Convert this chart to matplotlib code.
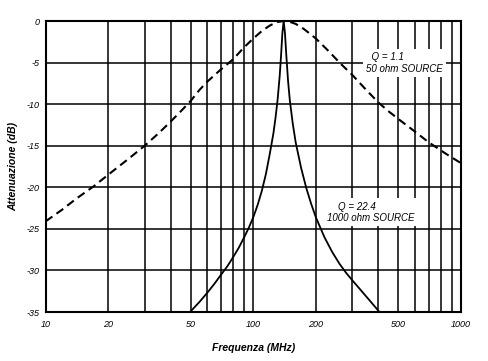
import matplotlib
matplotlib.use("Agg")
import matplotlib.pyplot as plt
from matplotlib.ticker import FixedLocator, NullFormatter

# Q = 1.1, 50 ohm source (dashed)
freq_q1 = [10, 12, 14, 17, 20, 25, 30, 35, 40, 45, 50, 55, 60, 70, 80, 90,
           100, 110, 120, 130, 140, 150, 160, 175, 200, 230, 260, 300, 350,
           400, 450, 500, 600, 700, 850, 1000]
att_q1 = [-24.1, -22.7, -21.4, -19.9, -18.5, -16.6, -15.0, -13.5, -12.1,
          -10.8, -9.6, -8.3, -7.3, -5.8, -4.6, -3.2, -2.1, -1.2, -0.55,
          -0.13, 0.0, -0.1, -0.35, -0.95, -2.1, -3.6, -5.0, -6.5, -8.3,
          -9.8, -10.9, -11.8, -13.3, -14.6, -16.0, -17.1]

# Q = 22.4, 1000 ohm source (solid)
freq_q2 = [49.6, 55, 60, 65, 70, 75, 80, 85, 90, 95, 100, 105, 110, 115,
           120, 125, 128, 131, 134, 136, 138, 140, 142, 144, 147, 150, 155,
           160, 170, 180, 190, 200, 220, 240, 260, 280, 300, 330, 360, 405]
att_q2 = [-35.0, -33.8, -32.7, -31.6, -30.5, -29.5, -28.4, -27.3, -26.1,
          -24.9, -23.6, -22.1, -20.4, -18.4, -16.0, -13.5, -11.6, -9.4,
          -6.6, -4.2, -1.5, 0.0, -1.4, -3.9, -7.2, -9.6, -12.4, -14.6,
          -17.7, -20.1, -22.0, -23.6, -26.0, -27.8, -29.2, -30.3, -31.2,
          -32.4, -33.5, -35.0]

x_ticks = [10, 20, 50, 100, 200, 500, 1000]
x_ticklabels = ["10", "20", "50", "100", "200", "500", "1000"]
x_grid = [20, 30, 40, 50, 60, 70, 80, 90, 100,
          200, 300, 400, 500, 600, 700, 800, 900]
y_ticks = [0, -5, -10, -15, -20, -25, -30, -35]

FONT = "Liberation Sans"

fig = plt.figure(figsize=(4.88, 3.61), dpi=100)
ax = fig.add_axes([0.0934, 0.1357, 0.8513, 0.8061])

ax.set_xscale("log")
ax.set_xlim(10, 1000)
ax.set_ylim(-35, 0)

# grid
for g in x_grid:
    ax.axvline(g, color="black", lw=1.1, zorder=1)
for g in y_ticks[1:-1]:
    ax.axhline(g, color="black", lw=1.1, zorder=1)

ax.plot(freq_q1, att_q1, color="black", lw=1.5, dashes=(4, 2.4), zorder=3)
ax.plot(freq_q2, att_q2, color="black", lw=1.3, zorder=3)

ax.xaxis.set_major_locator(FixedLocator(x_ticks))
ax.set_xticklabels(x_ticklabels)
ax.xaxis.set_minor_formatter(NullFormatter())
ax.xaxis.set_minor_locator(FixedLocator([]))
ax.set_yticks(y_ticks)
ax.set_yticklabels([str(v) for v in y_ticks])
ax.tick_params(length=0, labelsize=6.5, pad=6)
for lab in ax.get_xticklabels() + ax.get_yticklabels():
    lab.set_fontfamily(FONT)
    lab.set_fontstyle("italic")
ax.tick_params(axis="y", pad=4)

for s in ax.spines.values():
    s.set_linewidth(1.5)
    s.set_color("black")

ax.set_xlabel("Frequenza (MHz)", fontfamily=FONT, fontstyle="italic",
              fontweight="bold", fontsize=7.5, labelpad=10)
ax.set_ylabel("Attenuazione (dB)", fontfamily=FONT, fontstyle="italic",
              fontweight="bold", fontsize=7.5, labelpad=6)

box = dict(boxstyle="square,pad=0.35", fc="white", ec="none")
tk = dict(fontfamily=FONT, fontstyle="italic", fontsize=7, zorder=4,
          ha="left", va="center")
ax.text(349, -5.05, "  Q = 1.1\n50 ohm SOURCE", bbox=box, linespacing=1.15, **tk)
ax.text(226, -23.0, "    Q = 22.4\n1000 ohm SOURCE", bbox=box, linespacing=1.15, **tk)

fig.savefig("out.png", dpi=100, facecolor="white")
